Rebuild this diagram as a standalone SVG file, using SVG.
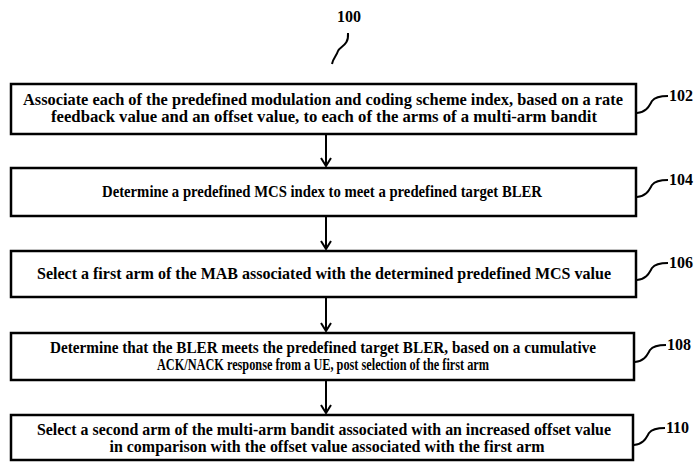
<svg xmlns="http://www.w3.org/2000/svg" width="699" height="462" viewBox="0 0 699 462">
<defs>
<style>
.box{fill:#fff;stroke:#000;stroke-width:2.5}
.t{font-family:"Liberation Serif","Times New Roman",serif;font-weight:bold;font-size:16.2px;text-anchor:middle;fill:#000}
.ref{font-family:"Liberation Serif","Times New Roman",serif;font-weight:bold;font-size:16px;fill:#000}
.c{fill:none;stroke:#000;stroke-width:2}
.lead{fill:none;stroke:#000;stroke-width:2}
</style>
<marker id="ah" viewBox="0 0 10 12" refX="9" refY="6" markerWidth="10" markerHeight="12" markerUnits="userSpaceOnUse" orient="auto">
<path d="M1,1 L9,6 L1,11" fill="none" stroke="#000" stroke-width="2"/>
</marker>
</defs>
<rect width="699" height="462" fill="#fff"/>
<g id="label100">
<text class="ref" x="337" y="22">100</text>
<path class="lead" d="M348,33 C349,46 340,46 338,51 C336,57 333,58 332,64"/>
</g>
<g id="connectors">
<line class="c" x1="326" y1="135" x2="326" y2="166" marker-end="url(#ah)"/>
<line class="c" x1="326" y1="217" x2="326" y2="249" marker-end="url(#ah)"/>
<line class="c" x1="326" y1="298" x2="326" y2="331" marker-end="url(#ah)"/>
<line class="c" x1="326" y1="381" x2="326" y2="413" marker-end="url(#ah)"/>
</g>
<g id="n102">
<rect class="box" x="11" y="84" width="625" height="50"/>
<text class="t" x="323" y="105" textLength="600" lengthAdjust="spacingAndGlyphs">Associate each of the predefined modulation  and coding scheme index, based on a rate</text>
<text class="t" x="324" y="122" textLength="546" lengthAdjust="spacingAndGlyphs">feedback value and an offset value, to each of the arms of a multi-arm  bandit</text>
<path class="lead" d="M637,113 C647,112 649,106 652,101 C655,97 660,96 668,96"/>
<text class="ref" x="669" y="101">102</text>
</g>
<g id="n104">
<rect class="box" x="11" y="168" width="625" height="48"/>
<text class="t" x="322" y="197" textLength="440" lengthAdjust="spacingAndGlyphs">Determine a predefined MCS index to meet a predefined target BLER</text>
<path class="lead" d="M637,197 C647,196 649,190 652,185 C655,181 660,180 668,180"/>
<text class="ref" x="669" y="185">104</text>
</g>
<g id="n106">
<rect class="box" x="11" y="251" width="625" height="46"/>
<text class="t" x="324" y="279" textLength="574" lengthAdjust="spacingAndGlyphs">Select a first arm of the MAB associated with the determined predefined MCS value</text>
<path class="lead" d="M637,280 C647,279 649,273 652,268 C655,264 660,263 668,263"/>
<text class="ref" x="669" y="268">106</text>
</g>
<g id="n108">
<rect class="box" x="11" y="333" width="623" height="47"/>
<text class="t" x="323" y="353" textLength="546" lengthAdjust="spacingAndGlyphs">Determine that the BLER meets the predefined target BLER, based on a cumulative</text>
<text class="t" x="323" y="370" textLength="332" lengthAdjust="spacingAndGlyphs">ACK/NACK response from a UE, post selection  of the first arm</text>
<path class="lead" d="M635,362 C645,361 647,355 650,350 C653,346 658,345 666,345"/>
<text class="ref" x="667" y="350">108</text>
</g>
<g id="n110">
<rect class="box" x="11" y="415" width="622" height="45"/>
<text class="t" x="324" y="435" textLength="574" lengthAdjust="spacingAndGlyphs">Select a second arm of the multi-arm  bandit associated with an increased offset value</text>
<text class="t" x="327" y="452" textLength="435" lengthAdjust="spacingAndGlyphs">in comparison with the offset value associated with the first arm</text>
<path class="lead" d="M634,445 C644,444 646,438 649,433 C652,429 657,428 665,428"/>
<text class="ref" x="666" y="433">110</text>
</g>
</svg>
